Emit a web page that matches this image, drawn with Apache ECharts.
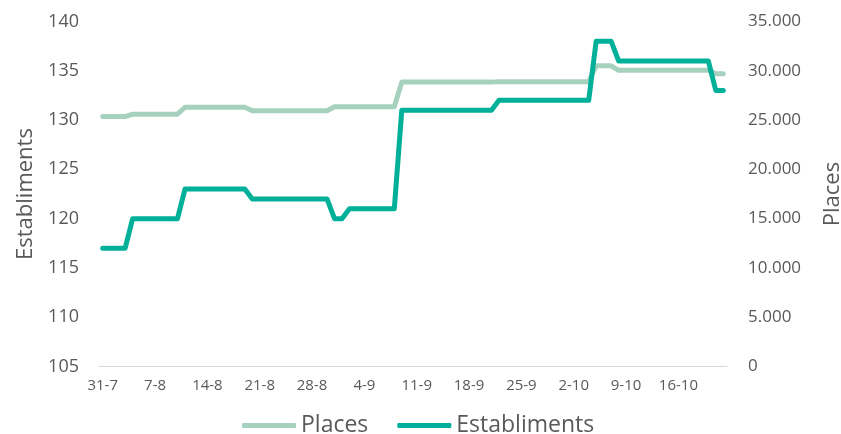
<!DOCTYPE html>
<html>
<head>
    <meta charset="UTF-8">
    <title>Places i establiments</title>
    <script src="https://cdn.jsdelivr.net/npm/echarts@6/dist/echarts.min.js"></script>
    <style type="text/css">
        html, body { margin: 0; padding: 0; background: #fff; }
        #chart { width: 841px; height: 434px; }
    </style>
</head>
<body>
<div id="chart"></div>
<script>
// dies: 31-7 fins 22-10 (84 dies)
var days = [];
(function () {
    var d = new Date(2020, 6, 31);
    for (var i = 0; i < 84; i++) {
        days.push(d.getDate() + '-' + (d.getMonth() + 1));
        d.setDate(d.getDate() + 1);
    }
})();

var establiments = [
    117, 117, 117, 117,
    120, 120, 120, 120, 120, 120, 120,
    123, 123, 123, 123, 123, 123, 123, 123, 123,
    122, 122, 122, 122, 122, 122, 122, 122, 122, 122, 122,
    120, 120,
    121, 121, 121, 121, 121, 121, 121,
    131, 131, 131, 131, 131, 131, 131, 131, 131, 131, 131, 131, 131,
    132, 132, 132, 132, 132, 132, 132, 132, 132, 132, 132, 132, 132,
    138, 138, 138,
    136, 136, 136, 136, 136, 136, 136, 136, 136, 136, 136, 136, 136,
    133, 133
];

var places = [
    25350, 25350, 25350, 25350,
    25600, 25600, 25600, 25600, 25600, 25600, 25600,
    26300, 26300, 26300, 26300, 26300, 26300, 26300, 26300, 26300,
    25950, 25950, 25950, 25950, 25950, 25950, 25950, 25950, 25950, 25950, 25950,
    26350, 26350, 26350, 26350, 26350, 26350, 26350, 26350, 26350,
    28850, 28850, 28850, 28850, 28850, 28850, 28850, 28850, 28850, 28850, 28850, 28850, 28850,
    28900, 28900, 28900, 28900, 28900, 28900, 28900, 28900, 28900, 28900, 28900, 28900, 28900,
    30500, 30500, 30500,
    30050, 30050, 30050, 30050, 30050, 30050, 30050, 30050, 30050, 30050, 30050, 30050, 30050,
    29700, 29700
];

var font = 'Open Sans';
var grey = '#595959';

var myChart = echarts.init(document.getElementById('chart'));

var option = {
    animation: false,
    grid: { left: 99, right: 114, top: 21.5, bottom: 67.5, outerBoundsMode: 'none' },
    legend: {
        data: ['Places', 'Establiments'],
        left: 237,
        top: 409,
        icon: 'roundRect',
        itemWidth: 54,
        itemHeight: 5,
        itemGap: 29,
        textStyle: { fontFamily: font, fontSize: 23, color: grey }
    },
    xAxis: {
        type: 'category',
        data: days,
        boundaryGap: true,
        axisLine: { lineStyle: { color: '#d9d9d9', width: 1 } },
        axisTick: { interval: 6, length: 5, lineStyle: { color: '#d0d0d0' } },
        axisLabel: {
            interval: 6,
            margin: 12,
            fontFamily: font,
            fontSize: 15,
            color: grey
        }
    },
    yAxis: [{
        type: 'value',
        name: 'Establiments',
        nameLocation: 'middle',
        nameGap: 62,
        nameTextStyle: { fontFamily: font, fontSize: 22, color: grey },
        min: 105,
        max: 140,
        interval: 5,
        axisLine: { show: false },
        axisTick: { show: false },
        splitLine: { show: false },
        axisLabel: { margin: 20, fontFamily: font, fontSize: 18, color: grey }
    }, {
        type: 'value',
        name: 'Places',
        nameLocation: 'middle',
        nameGap: 95,
        nameRotate: 90,
        nameTextStyle: { fontFamily: font, fontSize: 22, color: grey },
        min: 0,
        max: 35000,
        interval: 5000,
        axisLine: { show: false },
        axisTick: { show: false },
        splitLine: { show: false },
        axisLabel: {
            margin: 21,
            fontFamily: font,
            fontSize: 17,
            color: grey,
            formatter: function (v) {
                return v === 0 ? '0' : (v / 1000).toFixed(3);
            }
        }
    }],
    series: [{
        name: 'Places',
        type: 'line',
        yAxisIndex: 1,
        data: places,
        symbol: 'none',
        itemStyle: { color: '#a6d1bf' },
        lineStyle: { color: '#a6d1bf', width: 5, cap: 'round', join: 'round' }
    }, {
        name: 'Establiments',
        type: 'line',
        yAxisIndex: 0,
        data: establiments,
        symbol: 'none',
        itemStyle: { color: '#00b098' },
        lineStyle: { color: '#00b098', width: 5, cap: 'round', join: 'round' }
    }]
};

myChart.setOption(option);
</script>
</body>
</html>
